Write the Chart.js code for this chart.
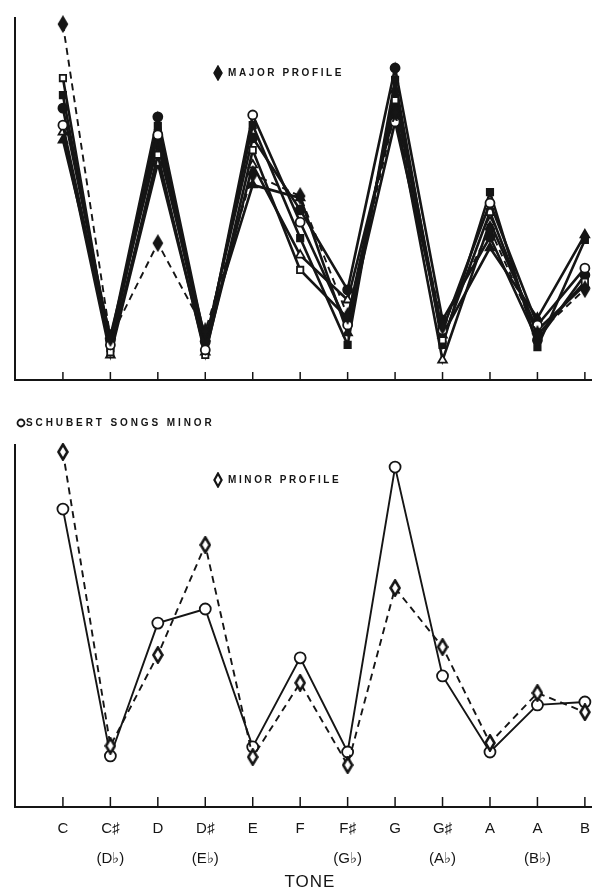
<!DOCTYPE html>
<html>
<head>
<meta charset="utf-8">
<script src="https://cdn.jsdelivr.net/npm/chart.js@4.4.1/dist/chart.umd.min.js"></script>
<style>
body{margin:0;background:#fff;width:592px;height:892px;overflow:hidden;position:relative;font-family:"Liberation Sans",Arial,sans-serif;color:#151515}
#topBox{position:absolute;left:0;top:0}
#botBox{position:absolute;left:0;top:392px}
.note{position:absolute;font-size:10px;font-weight:bold;white-space:nowrap;line-height:12px}
.note svg{position:absolute}
#tone{position:absolute;left:270px;top:872px;width:80px;text-align:center;font-size:17px;letter-spacing:1px}
</style>
</head>
<body>
<div id="topBox"><canvas id="topChart" width="592" height="392"></canvas></div>
<div id="botBox"><canvas id="botChart" width="592" height="500"></canvas></div>

<div class="note" style="left:228px;top:67px;letter-spacing:2.6px">
  <svg width="10" height="16" style="left:-15px;top:-2px"><polygon points="5,1 9,8 5,15 1,8" fill="#151515" stroke="#151515" stroke-width="1.5"/></svg>MAJOR PROFILE</div>
<div class="note" style="left:26px;top:417px;letter-spacing:2.9px">
  <svg width="10" height="10" style="left:-10px;top:1px"><circle cx="5" cy="5" r="3.5" fill="#fff" stroke="#151515" stroke-width="1.8"/></svg>SCHUBERT SONGS MINOR</div>
<div class="note" style="left:228px;top:474px;letter-spacing:2.6px">
  <svg width="10" height="16" style="left:-15px;top:-2px"><polygon points="5,1.5 8.6,8 5,14.5 1.4,8" fill="#fff" stroke="#151515" stroke-width="2.2"/></svg>MINOR PROFILE</div>
<div id="tone">TONE</div>

<script>
const tones = ["C","C♯","D","D♯","E","F","F♯","G","G♯","A","A","B"];
const flats = ["","(D♭)","","(E♭)","","","(G♭)","","(A♭)","","(B♭)",""];

// top panel: major
const majorProfile        = [98.3, 11.6, 37.8, 13.5, 56.9, 50.8, 17.7, 74.0, 14.9, 41.7, 12.7, 25.1];
const majorOpenCircle     = [70.4,  9.7, 67.7,  8.3, 73.2, 43.6, 15.2, 71.3, 13.8, 48.9, 15.2, 30.9];
const majorOpenSquare     = [83.4,  7.7, 62.2,  6.9, 63.5, 30.4, 17.1, 77.3, 11.0, 46.4, 12.4, 27.1];
const majorOpenTriangle   = [68.5,  6.9, 59.9,  7.7, 59.4, 34.5, 22.1, 74.6,  5.5, 43.6, 13.8, 26.2];
const majorFilledCircle   = [75.1, 11.0, 72.7, 10.5, 66.9, 47.0, 24.9, 86.2, 16.6, 39.5, 11.0, 29.0];
const majorFilledSquare   = [78.7,  8.8, 70.2,  9.4, 70.4, 39.2,  9.7, 82.9,  9.7, 51.9,  9.1, 38.7];
const majorFilledTriangle = [66.3, 12.2, 64.9, 11.6, 53.9, 50.3, 13.0, 80.1, 12.4, 36.5, 17.1, 40.1];

// bottom panel: minor
const schubertMinor = [82.3, 14.1, 50.8, 54.7, 16.6, 41.2, 15.2, 93.9, 36.2, 15.2, 28.2, 29.0];
const minorProfile  = [98.1, 16.9, 42.0, 72.4, 13.8, 34.3, 11.6, 60.5, 44.2, 17.7, 31.5, 26.2];

const INK = "#151515";

function diamond(filled){
    const c=document.createElement("canvas");
    c.width=12; c.height=18;
    const g=c.getContext("2d");
    g.beginPath();
    g.moveTo(6,1.5); g.lineTo(10.5,9); g.lineTo(6,16.5); g.lineTo(1.5,9); g.closePath();
    g.fillStyle=filled?INK:"#fff"; g.fill();
    g.lineWidth=filled?1.5:2.6; g.strokeStyle=INK; g.stroke();
    return c;
}

function pts(vals){
    return vals.map((v,i)=>({x:i,y:v}));
}

function solid(vals,style,filled){
    return {
        data:pts(vals),
        borderColor:INK,
        borderWidth:2.6,
        pointStyle:style,
        pointRadius:style==="triangle"?5:4.5,
        pointBorderWidth:1.8,
        pointBorderColor:INK,
        pointBackgroundColor:filled?INK:"#fff",
        tension:0,
        clip:false
    };
}

function dashed(vals,img){
    return {
        data:pts(vals),
        borderColor:INK,
        borderWidth:1.9,
        borderDash:[7,5],
        pointStyle:img,
        tension:0,
        clip:false
    };
}

// short tick marks pointing up from the axis
const tickMarks={
    id:"tickMarks",
    afterDraw(chart,args,opts){
        const x=chart.scales.x, ctx=chart.ctx, b=chart.chartArea.bottom;
        ctx.save();
        ctx.strokeStyle=INK; ctx.lineWidth=1.5;
        x.ticks.forEach(t=>{
            const px=x.getPixelForValue(t.value);
            ctx.beginPath(); ctx.moveTo(px,b); ctx.lineTo(px,b-opts.len); ctx.stroke();
        });
        ctx.restore();
    }
};

function xAxis(showLabels){
    return {
        type:"linear",
        min:-1.01, max:11.15,
        afterBuildTicks:s=>{ s.ticks=tones.map((_,i)=>({value:i})); },
        afterFit:s=>{ s.height=showLabels?85:0; s.paddingLeft=0; s.paddingRight=0; },
        grid:{display:false,drawTicks:false},
        border:{display:true,color:INK,width:2},
        ticks:{
            display:showLabels,
            padding:6,
            color:INK,
            font:{family:"'Liberation Sans', Arial, sans-serif",size:15,lineHeight:2.05},
            callback:v=>flats[v]?[tones[v],flats[v]]:tones[v]
        }
    };
}

const yAxis={
    min:0, max:100,
    grid:{display:false,drawTicks:false},
    ticks:{display:false},
    border:{display:true,color:INK,width:2}
};

function baseOptions(padTop,padBottom,showLabels,len){
    return {
        responsive:false,
        animation:false,
        layout:{autoPadding:false,padding:{left:15,right:0,top:padTop,bottom:padBottom}},
        plugins:{legend:{display:false},tooltip:{enabled:false},tickMarks:{len:len}},
        scales:{x:xAxis(showLabels),y:yAxis}
    };
}

new Chart(document.getElementById("topChart"),{
    type:"line",
    data:{datasets:[
        Object.assign(dashed(majorProfile,diamond(true)),{label:"Major profile"}),
        solid(majorOpenCircle,"circle",false),
        solid(majorOpenSquare,"rect",false),
        solid(majorOpenTriangle,"triangle",false),
        solid(majorFilledCircle,"circle",true),
        solid(majorFilledSquare,"rect",true),
        solid(majorFilledTriangle,"triangle",true)
    ]},
    options:baseOptions(18,12,false,8),
    plugins:[tickMarks]
});

new Chart(document.getElementById("botChart"),{
    type:"line",
    data:{datasets:[
        Object.assign(dashed(minorProfile,diamond(false)),{label:"Minor profile"}),
        Object.assign(solid(schubertMinor,"circle",false),{label:"Schubert songs minor",borderWidth:1.9,pointRadius:5.5,pointBorderWidth:1.8})
    ]},
    options:baseOptions(53,0,true,10),
    plugins:[tickMarks]
});
</script>
</body>
</html>
